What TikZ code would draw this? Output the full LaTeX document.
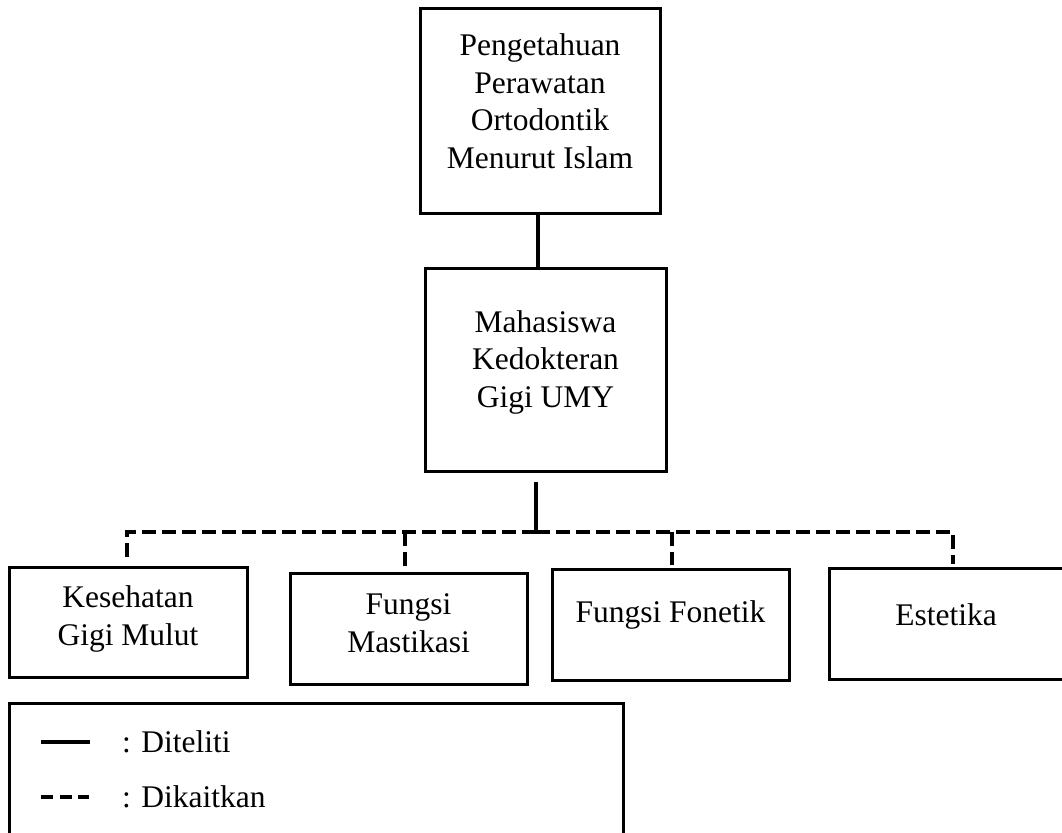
\documentclass[tikz,border=0pt]{standalone}
\usepackage{fontspec}
\setmainfont{Liberation Serif}
\begin{document}
\begin{tikzpicture}[x=1pt,y=-1pt,
  box/.style={draw, line width=3pt, inner sep=0pt},
  txt/.style={align=center, font=\fontsize{31.5}{37.5}\selectfont, inner sep=0pt},
  solidlink/.style={line width=4pt},
  dashlink/.style={line width=4pt, dash pattern=on 14pt off 6pt}]
\useasboundingbox (0,0) rectangle (1062,832);
\clip (0,0) rectangle (1062,832);
% boxes
\node[box, minimum width=240pt, minimum height=204pt] (top) at (540,111) {};
\node[box, minimum width=241pt, minimum height=203pt] (mid) at (545.5,369.5) {};
\node[box, minimum width=238pt, minimum height=110pt] (b1) at (128,622) {};
\node[box, minimum width=237pt, minimum height=111pt] (b2) at (408.5,628.5) {};
\node[box, minimum width=237pt, minimum height=111pt] (b3) at (670.5,624.5) {};
\node[box, minimum width=238pt, minimum height=111pt] (b4) at (948,623.5) {};
\node[box, minimum width=614pt, minimum height=134pt] (leg) at (316,770) {};
% texts
\node[txt] (toptxt) at (540,101) {Pengetahuan\\Perawatan\\Ortodontik\\Menurut Islam};
\node[txt] (midtxt) at (545.5,362) {Mahasiswa\\Kedokteran\\Gigi UMY};
\node[txt] (b1txt) at (128,619) {Kesehatan\\Gigi Mulut};
\node[txt] (b2txt) at (408.5,623) {Fungsi\\Mastikasi};
\node[txt] (b3txt) at (670.5,615) {Fungsi Fonetik};
\node[txt] (b4txt) at (946,615) {Estetika};
% connectors
\draw[solidlink] ([xshift=-2pt]top.south) -- ([xshift=-2pt]top.south |- mid.north);
\coordinate (bus) at (536,532);
\draw[solidlink, shorten <=9pt] (mid.south -| bus) -- (bus);
\draw[dashlink, shorten >=3pt] (bus) -| ([xshift=-1pt]b1.north);
\draw[dashlink, shorten >=3pt] (bus) -| ([xshift=5pt]b4.north);
\draw[dashlink, shorten >=3pt] ([xshift=-3.5pt]bus -| b2.north) -- ([xshift=-3.5pt]b2.north);
\draw[dashlink, shorten >=3pt] ([xshift=1.5pt]bus -| b3.north) -- ([xshift=1.5pt]b3.north);
% legend
\coordinate (s1) at (41,742);
\coordinate (s2) at (90,742);
\coordinate (d1) at (41,797);
\coordinate (d2) at (89,797);
\draw[solidlink] (s1) -- (s2);
\draw[line width=4pt, dash pattern=on 12pt off 6.5pt] (d1) -- (d2);
\node[txt, anchor=west] (l1) at (122,742) {: Diteliti};
\node[txt, anchor=west] (l2) at (122,797) {: Dikaitkan};
\end{tikzpicture}
\end{document}
